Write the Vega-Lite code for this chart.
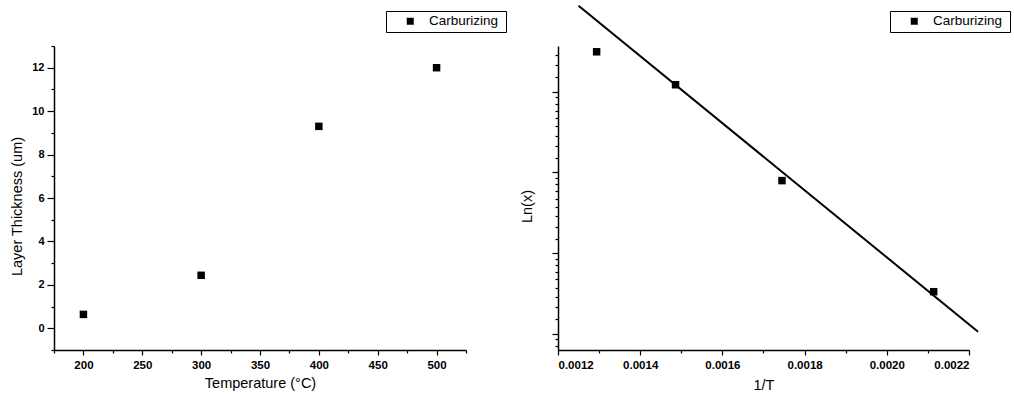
{
  "$schema": "https://vega.github.io/schema/vega-lite/v6.json",
  "padding": {"left": 9, "top": 1, "right": 0, "bottom": 0},
  "background": "white",
  "spacing": 92,
  "bounds": "flush",
  "config": {
    "font": "Liberation Sans",
    "view": {"stroke": null},
    "axis": {
      "grid": false,
      "domainColor": "black",
      "domainWidth": 1.5,
      "tickColor": "black",
      "tickWidth": 1.2,
      "labelColor": "black",
      "labelFont": "Liberation Sans",
      "labelFontWeight": "bold",
      "labelFontSize": 11,
      "titleFont": "Liberation Sans",
      "titleFontWeight": "normal",
      "titleFontSize": 14.5,
      "titleColor": "black"
    },
    "legend": {
      "orient": "none",
      "legendX": 332,
      "legendY": -35,
      "strokeColor": "black",
      "padding": 3.5,
      "symbolOffset": 14,
      "labelOffset": 12,
      "labelFont": "Liberation Sans",
      "labelFontSize": 13.5,
      "labelColor": "black",
      "titleOrient": "right",
      "titleFontSize": 13.5,
      "titlePadding": 4,
      "symbolSize": 49,
      "symbolType": "square",
      "symbolFillColor": "black",
      "symbolStrokeColor": "black"
    }
  },
  "resolve": {"scale": {"shape": "independent"}, "legend": {"shape": "independent"}},
  "hconcat": [
    {
      "width": 412,
      "height": 304,
      "data": {"values": [
        {"temperature": 200, "thickness": 0.64, "series": "Carburizing"},
        {"temperature": 300, "thickness": 2.44, "series": "Carburizing"},
        {"temperature": 400, "thickness": 9.3, "series": "Carburizing"},
        {"temperature": 500, "thickness": 12.0, "series": "Carburizing"}
      ]},
      "mark": {"type": "point", "filled": true, "size": 56, "color": "black", "opacity": 1},
      "encoding": {
        "x": {
          "field": "temperature", "type": "quantitative",
          "scale": {"domain": [175, 525], "nice": false, "zero": false},
          "axis": {
            "title": "Temperature (°C)",
            "values": [175, 200, 225, 250, 275, 300, 325, 350, 375, 400, 425, 450, 475, 500, 525],
            "labelExpr": "datum.value % 50 == 0 ? datum.label : ''",
            "tickSize": {"condition": {"test": "datum.value % 50 == 0", "value": 5}, "value": 3},
            "labelPadding": 4,
            "labelFontSize": 11.5,
            "titlePadding": 6
          }
        },
        "y": {
          "field": "thickness", "type": "quantitative",
          "scale": {"domain": [-1, 13], "nice": false, "zero": false},
          "axis": {
            "title": "Layer Thickness (um)",
            "values": [-1, 0, 1, 2, 3, 4, 5, 6, 7, 8, 9, 10, 11, 12, 13],
            "labelExpr": "datum.value % 2 == 0 ? datum.label : ''",
            "tickSize": {"condition": {"test": "datum.value % 2 == 0", "value": 7}, "value": 3},
            "labelPadding": 3,
            "titlePadding": 7,
            "titleY": 160
          }
        },
        "shape": {
          "field": "series", "type": "nominal",
          "scale": {"range": ["square"]},
          "legend": {"title": "\u00a0"}
        }
      }
    },
    {
      "width": 411,
      "height": 304,
      "layer": [
        {
          "data": {"values": [
            {"invT": 0.00125, "lnx": 21.4},
            {"invT": 0.002222, "lnx": 0.376}
          ]},
          "mark": {"type": "line", "color": "black", "strokeWidth": 2, "clip": false},
          "encoding": {
            "x": {"field": "invT", "type": "quantitative"},
            "y": {"field": "lnx", "type": "quantitative"}
          }
        },
        {
          "data": {"values": [
            {"invT": 0.001294, "lnx": 12.1, "series": "Carburizing"},
            {"invT": 0.001486, "lnx": 8.04, "series": "Carburizing"},
            {"invT": 0.001745, "lnx": 2.45, "series": "Carburizing"},
            {"invT": 0.002114, "lnx": 0.618, "series": "Carburizing"}
          ]},
          "mark": {"type": "point", "filled": true, "size": 56, "color": "black", "opacity": 1},
          "encoding": {
            "x": {
              "field": "invT", "type": "quantitative",
              "scale": {"domain": [0.0012, 0.0022], "nice": false, "zero": false},
              "axis": {
                "title": "1/T",
                "values": [0.0012, 0.0013, 0.0014, 0.0015, 0.0016, 0.0017, 0.0018, 0.0019, 0.002, 0.0021, 0.0022],
                "labelExpr": "round(datum.value * 10000) % 2 == 0 ? format(datum.value, '.4f') : ''",
                "tickSize": {"condition": {"test": "round(datum.value * 10000) % 2 == 0", "value": 5}, "value": 3},
                "labelPadding": 4,
                "labelFontSize": 11.5,
                "titlePadding": 8
              }
            },
            "y": {
              "field": "lnx", "type": "quantitative",
              "scale": {"type": "log", "base": 2.718281828459045, "domain": [0.3, 13], "nice": false, "zero": false},
              "axis": {
                "title": "Ln(x)",
                "labels": false,
                "values": [0.3167, 0.3426, 0.367879, 0.4381, 0.5084, 0.5786, 0.6488, 0.7191, 0.7893, 0.8596, 0.9298, 1, 1.1909, 1.3818, 1.5728, 1.7637, 1.9546, 2.1455, 2.3364, 2.5273, 2.718282, 3.2373, 3.7562, 4.2752, 4.7942, 5.3131, 5.8321, 6.3511, 6.8701, 7.389056, 8.7998, 10.2105, 11.6212],
                "tickSize": {"condition": {"test": "abs(log(datum.value) - round(log(datum.value))) < 0.001", "value": 6}, "value": 3},
                "titlePadding": 17,
                "titleY": 160
              }
            },
            "shape": {
              "field": "series", "type": "nominal",
              "scale": {"range": ["square"]},
              "legend": {"title": "\u00a0"}
            }
          }
        }
      ]
    }
  ]
}
